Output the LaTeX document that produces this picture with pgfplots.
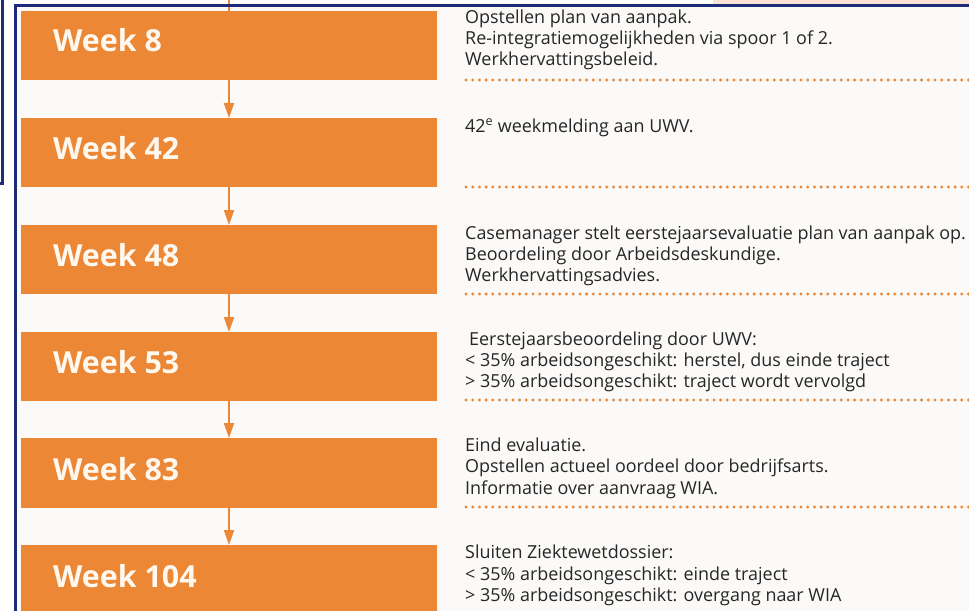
\documentclass[border=0pt]{standalone}
\usepackage{pgfplots}
\pgfplotsset{compat=1.18}
\usepackage{fontspec}
\setmainfont{Open Sans}
\usetikzlibrary{arrows.meta}
\definecolor{boxorange}{HTML}{EB8735}
\definecolor{navy}{HTML}{1C2C78}
\definecolor{bg}{HTML}{FBFAF8}
\definecolor{peach}{HTML}{FBE4D5}
\definecolor{txt}{HTML}{262626}
\definecolor{wtxt}{HTML}{FFF8EF}

\newcommand{\bodytxt}[2]{\node[anchor=base west, inner sep=0pt, font=\fontsize{18}{21}\selectfont, text=txt] at (axis cs:#1) {#2};}
\newcommand{\week}[2]{\node[anchor=base west, inner sep=0pt, font=\fontsize{30.5}{32}\selectfont\bfseries, text=wtxt] at (axis cs:53,#1) {#2};}
\newcommand{\dotrow}[1]{\addplot[boxorange, line width=3.3bp, line cap=round, dash pattern=on 0pt off 6.7bp] coordinates {(466,#1) (969,#1)};}
\newcommand{\arr}[2]{\addplot[boxorange, line width=2bp, -{Triangle[width=10bp,length=15bp]}] coordinates {(229,#1) (229,#2)};}
\newcommand{\obox}[2]{\addplot[draw=none, fill=boxorange] coordinates {(21,#1) (437,#1) (437,#2) (21,#2)} -- cycle;}

\begin{document}
\begin{tikzpicture}
\fill[bg] (15bp,0bp) rectangle (969bp,605bp);
\fill[peach] (713bp,605bp) rectangle (969bp,611bp);
\begin{axis}[
  scale only axis, width=969bp, height=611bp,
  xmin=0, xmax=969, ymin=0, ymax=611, y dir=reverse,
  hide axis, clip=true,
]
% boxes
\obox{11}{80}
\obox{118}{187}
\obox{225}{294}
\obox{332}{401}
\obox{438}{508}
\obox{545}{614}
% arrows
\addplot[boxorange, line width=2bp] coordinates {(229,0) (229,11)};
\arr{80}{118}
\arr{187}{225}
\arr{294}{332}
\arr{401}{438}
\arr{508}{545}
% dotted rows
\dotrow{80}
\dotrow{187}
\dotrow{294}
\dotrow{400}
\dotrow{507}
% frames
\draw[navy, line width=3bp] (axis cs:15,611) -- (axis cs:15,6) -- (axis cs:969,6);
\draw[navy, line width=3bp] (axis cs:2.5,0) -- (axis cs:2.5,183) -- (axis cs:0,183);
% week labels
\week{52}{Week 8}
\week{159}{Week 42}
\week{266}{Week 48}
\week{373}{Week 53}
\week{480}{Week 83}
\week{587}{Week 104}
% texts
\bodytxt{465,24}{Opstellen plan van aanpak.}
\bodytxt{465,45}{Re-integratiemogelijkheden via spoor 1 of 2.}
\bodytxt{465,66}{Werkhervattingsbeleid.}
\bodytxt{465,132}{42\textsuperscript{e} weekmelding aan UWV.}
\bodytxt{465,239}{Casemanager stelt eerstejaarsevaluatie plan van aanpak op.}
\bodytxt{465,260}{Beoordeling door Arbeidsdeskundige.}
\bodytxt{465,281}{Werkhervattingsadvies.}
\bodytxt{469,345}{Eerstejaarsbeoordeling door UWV:}
\bodytxt{465,366}{< 35\% arbeidsongeschikt: herstel, dus einde traject}
\bodytxt{465,387}{> 35\% arbeidsongeschikt: traject wordt vervolgd}
\bodytxt{465,451}{Eind evaluatie.}
\bodytxt{465,472}{Opstellen actueel oordeel door bedrijfsarts.}
\bodytxt{465,494}{Informatie over aanvraag WIA.}
\bodytxt{465,558}{Sluiten Ziektewetdossier:}
\bodytxt{465,580}{< 35\% arbeidsongeschikt: einde traject}
\bodytxt{465,601}{> 35\% arbeidsongeschikt: overgang naar WIA}
\end{axis}
\pgfresetboundingbox
\path (0,0) rectangle (969bp,611bp);
\end{tikzpicture}
\end{document}
